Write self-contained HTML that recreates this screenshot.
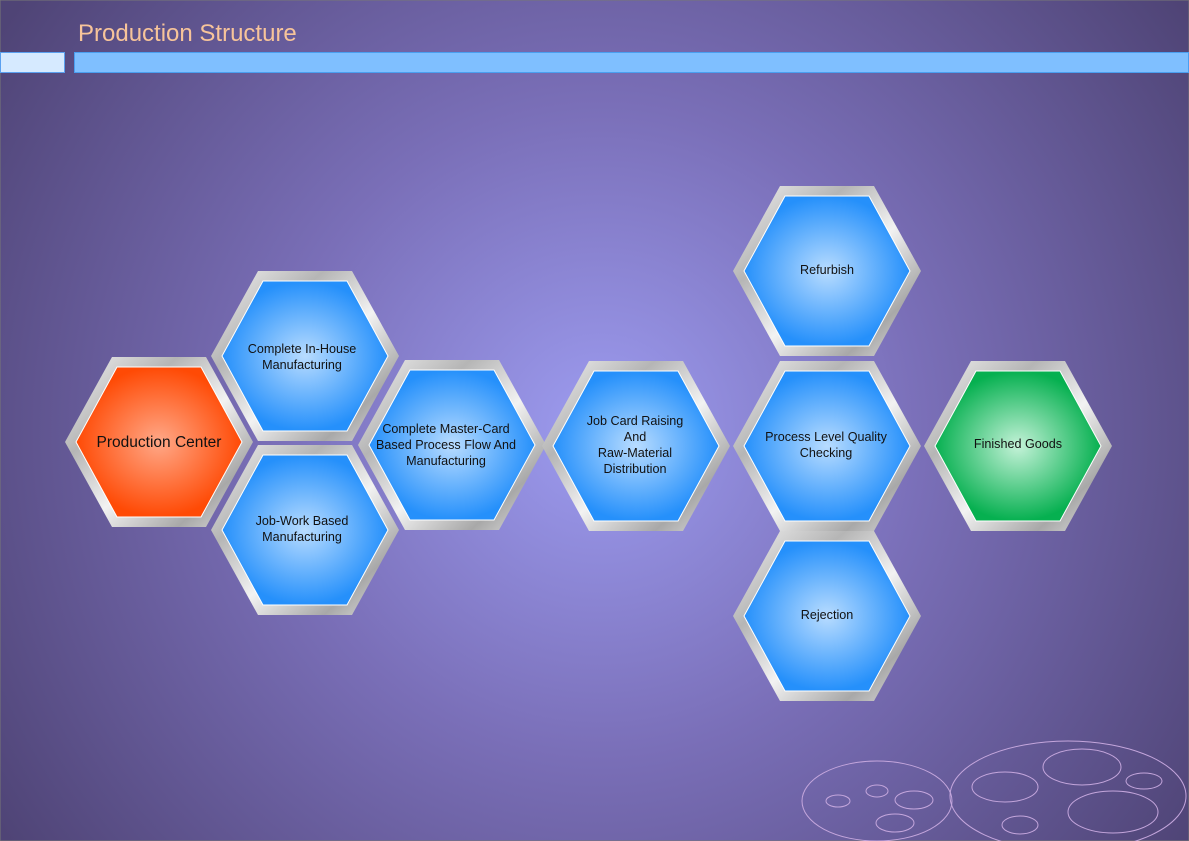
<!DOCTYPE html>
<html><head><meta charset="utf-8"><style>
html,body{margin:0;padding:0;width:1189px;height:841px;overflow:hidden}
svg{display:block}
text{font-family:"Liberation Sans",Arial,sans-serif}
</style></head><body>
<svg width="1189" height="841" viewBox="0 0 1189 841" xmlns="http://www.w3.org/2000/svg">
<defs>
<radialGradient id="bg" cx="600" cy="430" r="720" gradientUnits="userSpaceOnUse">
<stop offset="0" stop-color="#9d9cf0"/><stop offset="0.45" stop-color="#7a6fb8"/><stop offset="1" stop-color="#4f4476"/>
</radialGradient>
<linearGradient id="frame" x1="0" y1="0" x2="1" y2="1">
<stop offset="0" stop-color="#f4f4f4"/><stop offset="0.3" stop-color="#b5b5b5"/><stop offset="0.55" stop-color="#f2f2f2"/><stop offset="0.8" stop-color="#a8a8a8"/><stop offset="1" stop-color="#e8e8e8"/>
</linearGradient>
<radialGradient id="blue"><stop offset="0" stop-color="#b8dcff"/><stop offset="1" stop-color="#2590fb"/></radialGradient>
<radialGradient id="red"><stop offset="0" stop-color="#ffa888"/><stop offset="1" stop-color="#ff4a05"/></radialGradient>
<radialGradient id="green"><stop offset="0" stop-color="#c4f2d8"/><stop offset="1" stop-color="#06b050"/></radialGradient>
</defs>
<rect x="0" y="0" width="1189" height="841" fill="url(#bg)" stroke="#777" stroke-width="1"/>
<text x="78" y="41" font-size="24" fill="#f7c49a">Production Structure</text>
<rect x="0.5" y="52.5" width="64" height="20" fill="#d6eaff" stroke="#5aa0f0"/>
<rect x="74.5" y="52.5" width="1114" height="20" fill="#7fbfff" stroke="#4a9ff0"/>
<g fill="none" stroke="#c4a6dc" stroke-width="1">
<ellipse cx="877" cy="801" rx="75" ry="40"/>
<ellipse cx="838" cy="801" rx="12" ry="6"/>
<ellipse cx="877" cy="791" rx="11" ry="6"/>
<ellipse cx="914" cy="800" rx="19" ry="9"/>
<ellipse cx="895" cy="823" rx="19" ry="9"/>
<ellipse cx="1068" cy="796" rx="118" ry="55"/>
<ellipse cx="1005" cy="787" rx="33" ry="15"/>
<ellipse cx="1082" cy="767" rx="39" ry="18"/>
<ellipse cx="1144" cy="781" rx="18" ry="8"/>
<ellipse cx="1113" cy="812" rx="45" ry="21"/>
<ellipse cx="1020" cy="825" rx="18" ry="9"/>
</g>
<g>
<g transform="translate(159,442)"><polygon points="-94,0 -47,-85 47,-85 94,0 47,85 -47,85" fill="url(#frame)"/><polygon points="-83,0 -42,-75 42,-75 83,0 42,75 -42,75" fill="url(#red)" stroke="#fff" stroke-width="1"/><text y="5" font-size="15.5" text-anchor="middle" fill="#111">Production Center</text></g>
<g transform="translate(305,356)"><polygon points="-94,0 -47,-85 47,-85 94,0 47,85 -47,85" fill="url(#frame)"/><polygon points="-83,0 -42,-75 42,-75 83,0 42,75 -42,75" fill="url(#blue)" stroke="#fff"/><text font-size="12.6" text-anchor="middle" fill="#111"><tspan x="-3" y="-3">Complete In-House</tspan><tspan x="-3" y="13">Manufacturing</tspan></text></g>
<g transform="translate(305,530)"><polygon points="-94,0 -47,-85 47,-85 94,0 47,85 -47,85" fill="url(#frame)"/><polygon points="-83,0 -42,-75 42,-75 83,0 42,75 -42,75" fill="url(#blue)" stroke="#fff"/><text font-size="12.6" text-anchor="middle" fill="#111"><tspan x="-3" y="-5">Job-Work Based</tspan><tspan x="-3" y="11">Manufacturing</tspan></text></g>
<g transform="translate(452,445)"><polygon points="-94,0 -47,-85 47,-85 94,0 47,85 -47,85" fill="url(#frame)"/><polygon points="-83,0 -42,-75 42,-75 83,0 42,75 -42,75" fill="url(#blue)" stroke="#fff"/><text font-size="12.6" text-anchor="middle" fill="#111"><tspan x="-6" y="-12">Complete Master-Card</tspan><tspan x="-6" y="4">Based Process Flow And</tspan><tspan x="-6" y="20">Manufacturing</tspan></text></g>
<g transform="translate(636,446)"><polygon points="-94,0 -47,-85 47,-85 94,0 47,85 -47,85" fill="url(#frame)"/><polygon points="-83,0 -42,-75 42,-75 83,0 42,75 -42,75" fill="url(#blue)" stroke="#fff"/><text font-size="12.6" text-anchor="middle" fill="#111"><tspan x="-1" y="-21">Job Card Raising</tspan><tspan x="-1" y="-5">And</tspan><tspan x="-1" y="11">Raw-Material</tspan><tspan x="-1" y="27">Distribution</tspan></text></g>
<g transform="translate(827,271)"><polygon points="-94,0 -47,-85 47,-85 94,0 47,85 -47,85" fill="url(#frame)"/><polygon points="-83,0 -42,-75 42,-75 83,0 42,75 -42,75" fill="url(#blue)" stroke="#fff"/><text y="3" font-size="12.6" text-anchor="middle" fill="#111">Refurbish</text></g>
<g transform="translate(827,446)"><polygon points="-94,0 -47,-85 47,-85 94,0 47,85 -47,85" fill="url(#frame)"/><polygon points="-83,0 -42,-75 42,-75 83,0 42,75 -42,75" fill="url(#blue)" stroke="#fff"/><text font-size="12.6" text-anchor="middle" fill="#111"><tspan x="-1" y="-5">Process Level Quality</tspan><tspan x="-1" y="11">Checking</tspan></text></g>
<g transform="translate(827,616)"><polygon points="-94,0 -47,-85 47,-85 94,0 47,85 -47,85" fill="url(#frame)"/><polygon points="-83,0 -42,-75 42,-75 83,0 42,75 -42,75" fill="url(#blue)" stroke="#fff"/><text y="3" font-size="12.6" text-anchor="middle" fill="#111">Rejection</text></g>
<g transform="translate(1018,446)"><polygon points="-94,0 -47,-85 47,-85 94,0 47,85 -47,85" fill="url(#frame)"/><polygon points="-83,0 -42,-75 42,-75 83,0 42,75 -42,75" fill="url(#green)" stroke="#fff"/><text y="2" font-size="12.6" text-anchor="middle" fill="#111">Finished Goods</text></g>
</g>
</svg>
</body></html>
